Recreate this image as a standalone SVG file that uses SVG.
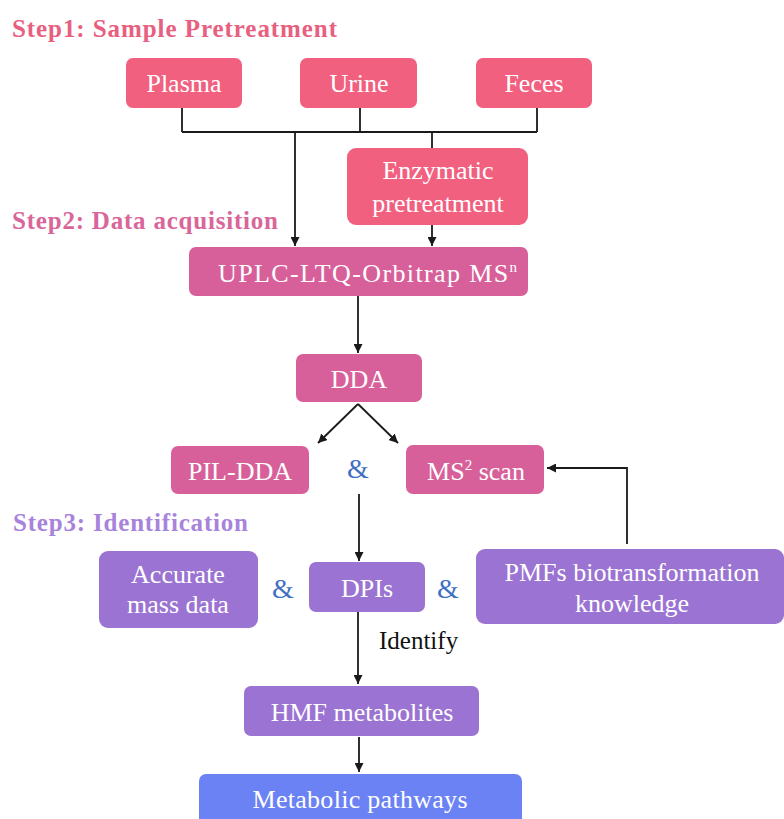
<svg xmlns="http://www.w3.org/2000/svg" width="784" height="819" viewBox="0 0 784 819">
<defs>
<marker id="ah" viewBox="0 0 10 10" refX="10" refY="5" markerWidth="9" markerHeight="9" markerUnits="userSpaceOnUse" orient="auto">
<path d="M0,0 L10,5 L0,10 z" fill="#1a1a1a"/>
</marker>
<style>
text{font-family:"Liberation Serif","DejaVu Serif",serif;}
.t{font-size:26px;fill:#ffffff;text-anchor:middle;}
.h{font-size:25px;font-weight:bold;}
.amp{font-size:28px;fill:#3f6fc4;text-anchor:middle;}
.c{fill:none;stroke:#1a1a1a;stroke-width:1.8;}
.a{marker-end:url(#ah);}
.p1{fill:#f2607f;}
.p2{fill:#d8609a;}
.p3{fill:#9b73d2;}
.p4{fill:#6b82f5;}
</style>
</defs>
<rect width="784" height="819" fill="#ffffff"/>

<text class="h" x="12" y="37" fill="#e8607f" textLength="325" lengthAdjust="spacing">Step1: Sample Pretreatment</text>
<text class="h" x="12" y="229" fill="#d9669a" textLength="266" lengthAdjust="spacing">Step2: Data acquisition</text>
<text class="h" x="13" y="531" fill="#a883dc" textLength="235" lengthAdjust="spacing">Step3: Identification</text>

<g id="connectors">
<path class="c" d="M182,108 V132 M360,108 V132 M537,108 V132 M182,132 H537"/>
<path class="c a" d="M295,132 V246"/>
<path class="c" d="M432,132 V148"/>
<path class="c a" d="M432,225 V246"/>
<path class="c a" d="M358,296 V353"/>
<path class="c a" d="M358,404 L318,443"/>
<path class="c a" d="M358,404 L398,443"/>
<path class="c a" d="M359,494 V561"/>
<path class="c a" d="M627,544 V468 H547"/>
<path class="c a" d="M358,612 V684"/>
<path class="c a" d="M359,737 V772"/>
</g>

<g id="plasma"><rect class="p1" x="126" y="58" width="116" height="50" rx="7"/><text class="t" x="184" y="92">Plasma</text></g>
<g id="urine"><rect class="p1" x="300" y="58" width="117" height="50" rx="7"/><text class="t" x="359" y="92">Urine</text></g>
<g id="feces"><rect class="p1" x="476" y="58" width="116" height="50" rx="7"/><text class="t" x="534" y="92">Feces</text></g>
<g id="enzymatic"><rect class="p1" x="347" y="148" width="181" height="77" rx="9"/><text class="t" x="438" y="179">Enzymatic</text><text class="t" x="438" y="212">pretreatment</text></g>
<g id="uplc"><rect class="p2" x="189" y="247" width="339" height="49" rx="7"/><text class="t" x="218" y="282" style="text-anchor:start" textLength="299" lengthAdjust="spacing">UPLC-LTQ-Orbitrap  MS<tspan font-size="15" dy="-10">n</tspan></text></g>
<g id="dda"><rect class="p2" x="296" y="354" width="126" height="48" rx="7"/><text class="t" x="359" y="388">DDA</text></g>
<g id="pil-dda"><rect class="p2" x="171" y="446" width="138" height="48" rx="7"/><text class="t" x="240" y="480">PIL-DDA</text></g>
<text class="amp" x="358" y="478">&amp;</text>
<g id="ms2"><rect class="p2" x="406" y="445" width="138" height="49" rx="7"/><text class="t" x="476" y="480">MS<tspan font-size="15" dy="-10">2</tspan><tspan dy="10"> scan</tspan></text></g>
<g id="accurate"><rect class="p3" x="99" y="551" width="159" height="77" rx="9"/><text class="t" x="178" y="583">Accurate</text><text class="t" x="178" y="613">mass data</text></g>
<text class="amp" x="283" y="598">&amp;</text>
<g id="dpis"><rect class="p3" x="309" y="562" width="116" height="50" rx="7"/><text class="t" x="367" y="597">DPIs</text></g>
<text class="amp" x="448" y="598">&amp;</text>
<g id="pmfs"><rect class="p3" x="476" y="549" width="308" height="75" rx="9"/><text class="t" x="632" y="581">PMFs biotransformation</text><text class="t" x="632" y="612">knowledge</text></g>
<text x="379" y="649" font-size="25" fill="#111111">Identify</text>
<g id="hmf"><rect class="p3" x="244" y="686" width="235" height="50" rx="7"/><text class="t" x="362" y="721">HMF metabolites</text></g>
<g id="pathways"><rect class="p4" x="199" y="774" width="323" height="60" rx="7"/><text class="t" x="360" y="808" textLength="215" lengthAdjust="spacing">Metabolic  pathways</text></g>
</svg>
